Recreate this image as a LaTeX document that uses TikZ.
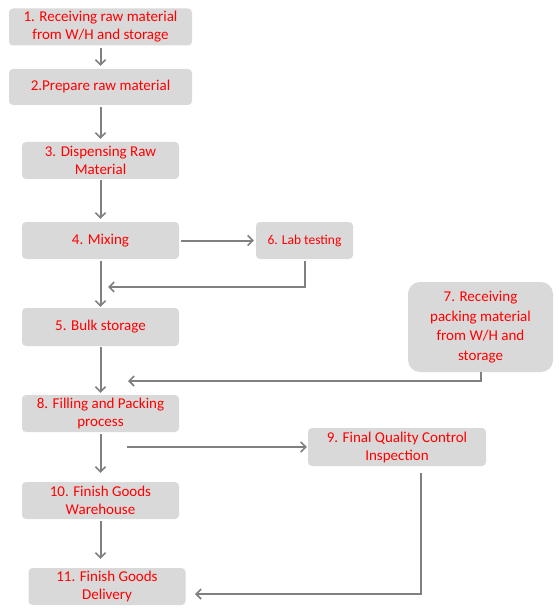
\documentclass[tikz,border=0pt]{standalone}
\usepackage{fontspec}
\setmainfont{Carlito}
\usetikzlibrary{arrows.meta}
\definecolor{boxgray}{HTML}{D9D9D9}
\definecolor{txtred}{HTML}{FF0000}
\definecolor{linegray}{HTML}{808080}
\begin{document}
\begin{tikzpicture}[x=1pt,y=-1pt,
  box/.style={fill=boxgray, rounded corners=4pt, text=txtred, align=center,
    inner sep=0pt, font=\fontsize{15}{18}\selectfont},
  conn/.style={draw=linegray, line width=2pt, -{Straight Barb[length=5pt,width=10pt,line width=1.6pt]}},
]
\useasboundingbox (0,0) rectangle (558,612);
\node[box, minimum width=183pt, minimum height=37pt] (n1) at (100.5,27) {1. Receiving raw material\\from W/H and storage};
\node[box, minimum width=183pt, minimum height=36pt] (n2) at (100.5,87) {2.Prepare raw material};
\node[box, minimum width=157pt, minimum height=37pt] (n3) at (100.5,160.5) {3. Dispensing Raw\\Material};
\node[box, minimum width=157pt, minimum height=37pt] (n4) at (100.5,240.5) {4. Mixing};
\node[box, minimum width=97pt, minimum height=37pt, font=\fontsize{13.5}{16}\selectfont] (n6) at (304.5,240.5) {6. Lab testing};
\node[box, minimum width=157pt, minimum height=38pt] (n5) at (100.5,327) {5. Bulk storage};
\node[box, rounded corners=12pt, minimum width=145pt, minimum height=90pt, font=\fontsize{15}{19.5}\selectfont] (n7) at (480.5,327) {7. Receiving\\packing material\\from W/H and\\storage};
\node[box, minimum width=157pt, minimum height=37pt] (n8) at (100.5,413.5) {8. Filling and Packing\\process};
\node[box, minimum width=178pt, minimum height=38pt] (n9) at (397,447) {9. Final Quality Control\\Inspection};
\node[box, minimum width=157pt, minimum height=37pt] (n10) at (100.5,500.5) {10. Finish Goods\\Warehouse};
\node[box, minimum width=157pt, minimum height=37pt] (n11) at (107,586.5) {11. Finish Goods\\Delivery};

\coordinate (j1) at (108,287);
\coordinate (j2) at (128,381);
\coordinate (j3) at (127,447);
\coordinate (j4) at (195,594);

\draw[conn, shorten <=2pt, shorten >=3pt] (n1.south) -- (n2.north);
\draw[conn, shorten <=2pt, shorten >=3pt] (n2.south) -- (n3.north);
\draw[conn, shorten <=1pt, shorten >=3pt] (n3.south) -- (n4.north);
\draw[conn, shorten <=2pt, shorten >=2pt] (n4.east) -- (n6.west);
\draw[conn, shorten <=2pt, shorten >=1pt] (n4.south) -- (n5.north);
\draw[conn, shorten <=2pt] (n6.south) |- (j1);
\draw[conn, shorten <=1pt, shorten >=2pt] (n5.south) -- (n8.north);
\draw[conn, shorten <=0pt] (n7.south) |- (j2);
\draw[conn, shorten >=1pt] (j3) -- (n9.west);
\draw[conn, shorten <=2pt, shorten >=9pt] (n8.south) -- (n10.north);
\draw[conn, shorten <=2pt, shorten >=9pt] (n10.south) -- (n10.south |- n11.north);
\draw[conn, shorten <=7pt] ([xshift=24pt]n9.south) |- (j4);
\end{tikzpicture}
\end{document}
